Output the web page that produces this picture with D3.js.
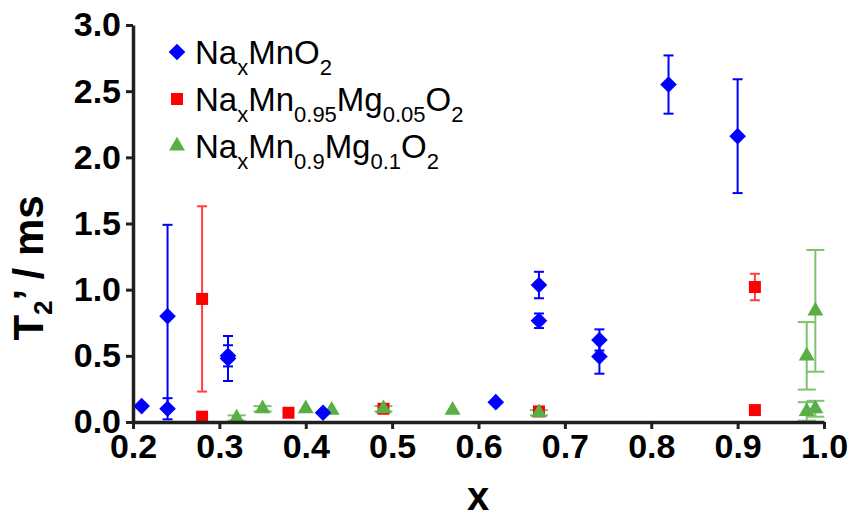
<!DOCTYPE html>
<html>
<head>
<meta charset="utf-8">
<script src="https://cdn.jsdelivr.net/npm/d3@7"></script>
<style>
  body { margin: 0; background: #fff; }
  svg text { font-family: "Liberation Sans", Arial, sans-serif; }
</style>
</head>
<body>
<svg id="chart" width="852" height="518"></svg>
<script>
// NaxMnO2
var mnX   = [0.21, 0.24, 0.24, 0.31, 0.31, 0.42, 0.62, 0.67, 0.67, 0.74, 0.74, 0.82, 0.90];
var mnY   = [0.12, 0.10, 0.80, 0.50, 0.48, 0.07, 0.15, 1.035, 0.765, 0.62, 0.495, 2.55, 2.16];
var mnErr = [0, 0.08, 0.69, 0.08, 0.17, 0, 0, 0.10, 0.055, 0.08, 0.13, 0.22, 0.43];
// NaxMn0.95Mg0.05O2
var mg05X   = [0.28, 0.28, 0.38, 0.49, 0.67, 0.92, 0.92];
var mg05Y   = [0.93, 0.04, 0.07, 0.10, 0.08, 1.02, 0.09];
var mg05Err = [0.70, 0, 0, 0, 0, 0.10, 0];
// NaxMn0.9Mg0.1O2
var mg10X   = [0.32, 0.35, 0.40, 0.43, 0.49, 0.57, 0.67, 0.98, 0.99, 0.98, 0.99];
var mg10Y   = [0.03, 0.10, 0.10, 0.09, 0.10, 0.09, 0.07, 0.50, 0.84, 0.08, 0.10];
var mg10Err = [0.02, 0.02, 0, 0, 0.02, 0, 0.02, 0.255, 0.46, 0.07, 0.06];

var xTicks = [0.2, 0.3, 0.4, 0.5, 0.6, 0.7, 0.8, 0.9, 1.0];
var yTicks = [0, 0.5, 1.0, 1.5, 2.0, 2.5, 3.0];

var svg = d3.select("#chart");
var x = d3.scaleLinear().domain([0.2, 1.0]).range([133, 824]);
var y = d3.scaleLinear().domain([0, 3]).range([422, 25]);

function zip(xs, ys, es){
   return xs.map(function(v, i){ return {x: v, y: ys[i], e: es[i]}; });
}

var series = [
   {name: "mg05", data: zip(mg05X, mg05Y, mg05Err), fill: "#ff0000", err: "#ff4040", cap: 5,
    sym: d3.symbolSquare, size: 144, rot: 0},
   {name: "mg10", data: zip(mg10X, mg10Y, mg10Err), fill: "#59ae46", err: "#7cc46c", cap: 9,
    sym: d3.symbolTriangle, size: 110, rot: 0},
   {name: "mn", data: zip(mnX, mnY, mnErr), fill: "#0000ff", err: "#0000ff", cap: 5,
    sym: d3.symbolSquare, size: 138, rot: 45}
];

// error bars first
series.forEach(function(s){
   var g = svg.append("g").attr("class", "err-" + s.name)
      .attr("stroke", s.err).attr("stroke-width", 2).attr("fill", "none");
   var withErr = s.data.filter(function(d){ return d.e > 0; });
   g.selectAll("line.v").data(withErr).enter().append("line")
      .attr("x1", function(d){ return x(d.x); })
      .attr("x2", function(d){ return x(d.x); })
      .attr("y1", function(d){ return y(d.y + d.e); })
      .attr("y2", function(d){ return y(Math.max(0, d.y - d.e)); });
   [1, -1].forEach(function(sign){
      g.selectAll("line.c" + sign).data(withErr).enter().append("line")
         .attr("x1", function(d){ return x(d.x) - s.cap; })
         .attr("x2", function(d){ return x(d.x) + s.cap; })
         .attr("y1", function(d){ return y(Math.max(0, d.y + sign * d.e)); })
         .attr("y2", function(d){ return y(Math.max(0, d.y + sign * d.e)); });
   });
});

// markers
series.forEach(function(s){
   svg.append("g").selectAll("path").data(s.data).enter().append("path")
      .attr("d", d3.symbol().type(s.sym).size(s.size))
      .attr("transform", function(d){
         return "translate(" + x(d.x) + "," + y(d.y) + ") rotate(" + s.rot + ")";
      })
      .attr("fill", s.fill);
});

// axes
var yAxis = svg.append("g").attr("transform", "translate(133,0)")
   .call(d3.axisLeft(y).tickValues(yTicks).tickFormat(d3.format(".1f"))
      .tickSize(7).tickSizeOuter(0).tickPadding(5));
var xAxis = svg.append("g").attr("transform", "translate(0,422)")
   .call(d3.axisBottom(x).tickValues(xTicks).tickFormat(d3.format(".1f"))
      .tickSize(7).tickSizeOuter(0).tickPadding(5));

[yAxis, xAxis].forEach(function(a){
   a.select(".domain").attr("stroke", "#231f20").attr("stroke-width", 3.5);
   a.selectAll(".tick line").attr("stroke", "#231f20").attr("stroke-width", 3);
   a.selectAll(".tick text").attr("fill", "#000")
      .style("font-size", "34px").style("font-weight", "bold")
      .style("font-family", "'Liberation Sans', Arial, sans-serif");
});

// axis titles
var yl = svg.append("text")
   .attr("transform", "translate(43,268) rotate(-90)")
   .attr("text-anchor", "middle")
   .style("font-size", "42px").style("font-weight", "bold");
yl.append("tspan").text("T");
yl.append("tspan").attr("dy", 9).style("font-size", "26px").text("2");
yl.append("tspan").attr("dy", -9).text("\u2019 / ms");

svg.append("text")
   .attr("x", 478).attr("y", 510)
   .attr("text-anchor", "middle")
   .style("font-size", "40px").style("font-weight", "bold")
   .text("x");

// legend
var legendItems = [
   {s: series[2], parts: [["Na"], ["x", 1], ["MnO"], ["2", 1]]},
   {s: series[0], parts: [["Na"], ["x", 1], ["Mn"], ["0.95", 1], ["Mg"], ["0.05", 1], ["O"], ["2", 1]]},
   {s: series[1], parts: [["Na"], ["x", 1], ["Mn"], ["0.9", 1], ["Mg"], ["0.1", 1], ["O"], ["2", 1]]}
];
legendItems.forEach(function(item, i){
   var cy = 52 + i * 47;
   svg.append("path")
      .attr("d", d3.symbol().type(item.s.sym).size(item.s.size))
      .attr("transform", "translate(177," + cy + ") rotate(" + item.s.rot + ")")
      .attr("fill", item.s.fill);
   var t = svg.append("text").attr("x", 195).attr("y", cy + 12)
      .style("font-size", "33px");
   var low = false;
   item.parts.forEach(function(p){
      var sub = !!p[1];
      var span = t.append("tspan").text(p[0]);
      if(sub && !low){ span.attr("dy", 11); low = true; }
      else if(!sub && low){ span.attr("dy", -11); low = false; }
      if(sub) span.style("font-size", "22px");
   });
});
</script>
</body>
</html>
